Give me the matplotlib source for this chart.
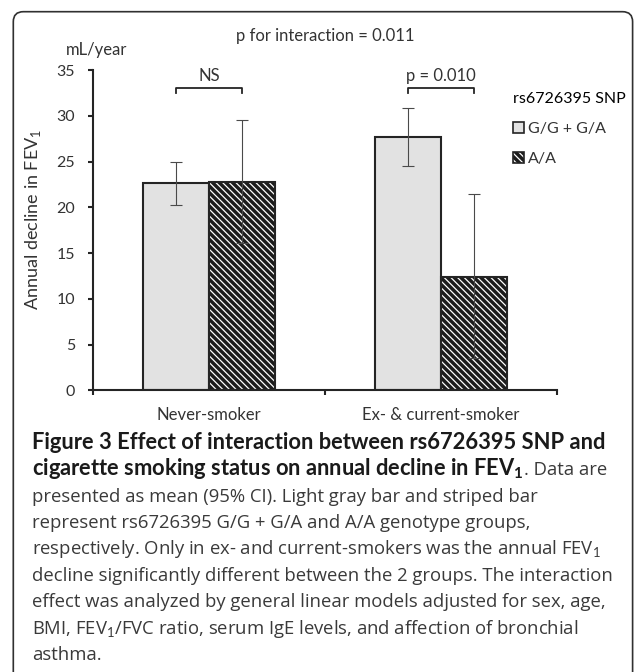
import numpy as np
import matplotlib
matplotlib.use('Agg')
import matplotlib.pyplot as plt
from matplotlib.patches import Patch, FancyBboxPatch
from matplotlib.legend_handler import HandlerTuple
from matplotlib.transforms import IdentityTransform

# ---------------- data ----------------
categories = ['Never-smoker', 'Ex- & current-smoker']
groups = ['G/G + G/A', 'A/A']
mean_gg = [22.7, 27.7]
lo_gg = [20.3, 24.5]
hi_gg = [25.0, 30.9]
mean_aa = [22.8, 12.4]
lo_aa = [16.1, 3.5]
hi_aa = [29.5, 21.4]
bracket_labels = ['NS', 'p = 0.010']
bracket_level = 33.0
y_ticks = [0, 5, 10, 15, 20, 25, 30, 35]
title_text = 'p for interaction = 0.011'
unit_text = 'mL/year'
legend_title = 'rs6726395 SNP'
ylabel_text = 'Annual decline in FEV$_1$'
caption_bold_1 = 'Figure 3 Effect of interaction between rs6726395 SNP and'
caption_bold_2 = 'cigarette smoking status on annual decline in FEV$_\\mathbf{1}$'
caption_reg_2 = '. Data are'
caption_rest = [
    'presented as mean (95% CI). Light gray bar and striped bar',
    'represent rs6726395 G/G + G/A and A/A genotype groups,',
    'respectively. Only in ex- and current-smokers was the annual FEV$_1$',
    'decline significantly different between the 2 groups. The interaction',
    'effect was analyzed by general linear models adjusted for sex, age,',
    'BMI, FEV$_1$/FVC ratio, serum IgE levels, and affection of bronchial',
    'asthma.',
]

# ---------------- style ----------------
plt.rcParams['font.family'] = ['Lato', 'DejaVu Sans']
plt.rcParams['mathtext.fontset'] = 'custom'
plt.rcParams['mathtext.rm'] = 'Lato'
plt.rcParams['mathtext.bf'] = 'Lato:bold'
plt.rcParams['hatch.color'] = 'white'
plt.rcParams['hatch.linewidth'] = 0.9

W, H = 636, 672
fig = plt.figure(figsize=(W / 100, H / 100), dpi=100)
fig.patch.set_facecolor('white')

ax_l, ax_r, ax_b, ax_t = 92.7, 557.3, 390.3, 70.0
ax = fig.add_axes([ax_l / W, 1 - ax_b / H, (ax_r - ax_l) / W, (ax_b - ax_t) / H])

dark = '#242424'
txt = '#333333'
gray_face = '#e2e2e2'
stripe_face = '#1c1c1c'
hatch = '\\\\\\\\\\'

x = np.arange(len(categories))
w = 0.283

ax.bar(x - w / 2, mean_gg, w, color=gray_face, edgecolor=dark, linewidth=1.5, zorder=2)
ax.bar(x + w / 2, mean_aa, w, color=stripe_face, hatch=hatch, linewidth=0, zorder=2)
ax.bar(x + w / 2, mean_aa, w, fill=False, edgecolor=dark, linewidth=1.5, zorder=3)

ekw = dict(fmt='none', ecolor='#4a4a4a', elinewidth=0.8, capsize=4.0, capthick=0.8, zorder=4)
ax.errorbar(x - w / 2, mean_gg,
            yerr=[np.subtract(mean_gg, lo_gg), np.subtract(hi_gg, mean_gg)], **ekw)
ax.errorbar(x + w / 2, mean_aa,
            yerr=[np.subtract(mean_aa, lo_aa), np.subtract(hi_aa, mean_aa)], **ekw)

for xi, lab in zip(x, bracket_labels):
    ax.plot([xi - w / 2, xi - w / 2, xi + w / 2, xi + w / 2],
            [bracket_level - 0.55, bracket_level, bracket_level, bracket_level - 0.55],
            color=dark, lw=1.3, clip_on=False, zorder=5)
    ax.text(xi, bracket_level + 1.35, lab, ha='center', va='center', fontsize=12, color=txt)

ax.set_xlim(-0.5, len(categories) - 0.5)
ax.set_ylim(0, 35)
for s in ['top', 'right']:
    ax.spines[s].set_visible(False)
for s in ['left', 'bottom']:
    ax.spines[s].set_linewidth(1.5)
    ax.spines[s].set_color(dark)

ax.set_yticks(y_ticks)
ax.tick_params(axis='y', length=3.6, width=1.5, color=dark, pad=9, labelsize=11.5, labelcolor=txt)
ax.set_xticks(np.arange(len(categories) + 1) - 0.5)
ax.set_xticklabels([])
ax.set_xticks(x, minor=True)
ax.set_xticklabels(categories, minor=True)
ax.tick_params(axis='x', which='major', length=3.6, width=1.5, color=dark)
ax.tick_params(axis='x', which='minor', length=0, pad=12, labelsize=12, labelcolor=txt)

ax.set_ylabel(ylabel_text, fontsize=13, color=txt, va='center', ha='center')
ax.yaxis.set_label_coords((33 - ax_l) / (ax_r - ax_l), (ax_b - 219) / (ax_b - ax_t))

fig.text(325.5 / W, 1 - 36 / H, title_text, ha='center', va='center', fontsize=12, color=txt)
fig.text(96.5 / W, 1 - 50 / H, unit_text, ha='center', va='center', fontsize=12, color=txt)

h1 = Patch(facecolor=gray_face, edgecolor=dark, linewidth=1.2)
h2a = Patch(facecolor=stripe_face, hatch=hatch, linewidth=0)
h2b = Patch(fill=False, edgecolor=dark, linewidth=1.2)
ax.legend([h1, (h2a, h2b)], groups,
          handler_map={tuple: HandlerTuple(ndivide=1, pad=0)},
          title=legend_title, loc='upper left',
          bbox_to_anchor=(513 / W, 1 - 92 / H), bbox_transform=fig.transFigure,
          frameon=False, fontsize=11.5, title_fontsize=11.5, alignment='left',
          borderpad=0, borderaxespad=0, handlelength=0.66, handleheight=0.66,
          handletextpad=0.3, labelspacing=1.0, labelcolor=txt)

# outer rounded frame
frame = FancyBboxPatch((13.3, -30), 619.3, 690.3,
                       boxstyle='round,pad=0,rounding_size=10',
                       transform=IdentityTransform(), fill=False,
                       edgecolor='#303030', linewidth=1.2)
fig.add_artist(frame)

# ---------------- caption ----------------
fig.canvas.draw()
r = fig.canvas.get_renderer()
reg_font = 'Open Sans'
bold_font = 'Lato'
probe = fig.text(0, 0, caption_rest[3], fontsize=11, family=reg_font)
reg_size = 11 * 583 / probe.get_window_extent(r).width
probe.remove()
p1 = fig.text(0, 0, caption_bold_1, fontsize=11, family=bold_font, weight='bold')
p2 = fig.text(0, 0.5, caption_bold_2, fontsize=11, family=bold_font, weight='bold')
w1 = p1.get_window_extent(r).width
w2 = p2.get_window_extent(r).width
t1, t2 = 588.0, 471.0
bold_size = 11 * (t1 * w1 + t2 * w2) / (w1 ** 2 + w2 ** 2)
p1.remove()
p2.remove()

cap_x = 32.0
base0, step = 448.8, 26.4
reg_col, bold_col = '#3a3a3a', '#1a1a1a'

fig.text(cap_x / W, 1 - base0 / H, caption_bold_1, fontsize=bold_size, family=bold_font,
         weight='bold', color=bold_col, va='baseline', ha='left')
tb = fig.text(cap_x / W, 1 - (base0 + step) / H, caption_bold_2, fontsize=bold_size,
              family=bold_font, weight='bold', color=bold_col, va='baseline', ha='left')
fig.canvas.draw()
x1 = tb.get_window_extent(fig.canvas.get_renderer()).x1
fig.text(x1 / W, 1 - (base0 + step) / H, caption_reg_2, fontsize=reg_size, family=reg_font,
         color=reg_col, va='baseline', ha='left')
for i, line in enumerate(caption_rest):
    fig.text(cap_x / W, 1 - (base0 + (i + 2) * step) / H, line, fontsize=reg_size,
             family=reg_font, color=reg_col, va='baseline', ha='left')

fig.savefig('out.png', dpi=100)
